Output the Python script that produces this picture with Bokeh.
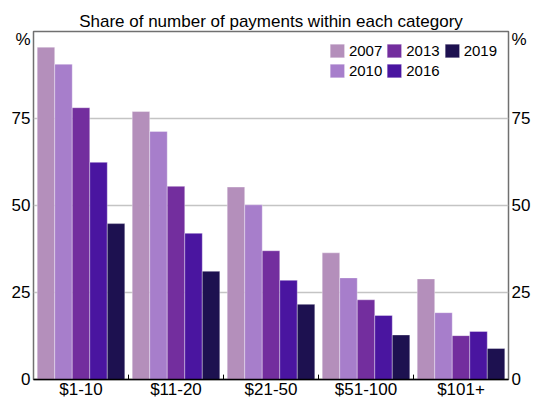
from bokeh.plotting import figure
from bokeh.models import (ColumnDataSource, Range1d, FactorRange, LinearAxis, FixedTicker,
                          Legend, LegendItem)
from bokeh.transform import dodge
from bokeh.embed import file_html
from bokeh.resources import INLINE

categories = ["$1-10", "$11-20", "$21-50", "$51-100", "$101+"]
years = ["2007", "2010", "2013", "2016", "2019"]
v2007 = [95.5, 77.0, 55.3, 36.4, 28.9]
v2010 = [90.6, 71.3, 50.2, 29.2, 19.2]
v2013 = [78.1, 55.5, 37.0, 22.9, 12.6]
v2016 = [62.4, 42.0, 28.5, 18.4, 13.8]
v2019 = [44.8, 31.1, 21.6, 12.8, 8.9]
colors = ["#b48fbb", "#a77ecb", "#732e9e", "#4a15a0", "#1d1150"]
y_ticks = [0, 25, 50, 75]

series = [v2007, v2010, v2013, v2016, v2019]
src = ColumnDataSource(dict(cat=categories, **{y: s for y, s in zip(years, series)}))

FONT = "Liberation Sans"

p = figure(width=538, height=401, x_range=FactorRange(*categories, range_padding=0),
           y_range=Range1d(0, 100), output_backend="svg", toolbar_location=None,
           min_border_left=33, min_border_right=30, min_border_top=31, min_border_bottom=0)

bw = 0.1844
offsets = [-2 * bw, -bw, 0, bw, 2 * bw]
renderers = []
for yr, off, col in zip(years, offsets, colors):
    r = p.vbar(x=dodge("cat", off, range=p.x_range), top=yr, width=bw, source=src,
               fill_color=col, line_color="white", line_alpha=0.35, line_width=1)
    renderers.append(r)

# category separators (boundaries between categories)
sep_src = ColumnDataSource(dict(cat=categories[:-1], y0=[0] * 4, y1=[1.4] * 4))
p.segment(x0=dodge("cat", 0.5, range=p.x_range), x1=dodge("cat", 0.5, range=p.x_range),
          y0="y0", y1="y1", source=sep_src, line_color="black", line_width=1)

# title
p.title.text = "Share of number of payments within each category"
p.title.align = "center"
p.title.text_font = FONT
p.title.text_font_size = "17px"
p.title.text_font_style = "normal"
p.title.text_color = "black"
p.title.standoff = 2

# outline & grid
p.outline_line_color = "#707070"
p.outline_line_width = 1.5
p.xgrid.grid_line_color = None
p.ygrid.ticker = FixedTicker(ticks=[25, 50, 75])
p.ygrid.grid_line_color = "#c4c4c4"
p.ygrid.grid_line_width = 1.5

# x axis
xa = p.xaxis[0]
xa.axis_line_color = "black"
xa.axis_line_width = 1.5
xa.major_tick_in = 0
xa.major_tick_out = 0
xa.major_label_standoff = 0
xa.major_label_text_font = FONT
xa.major_label_text_font_size = "17px"
xa.major_label_text_color = "black"

# y axes
ticks = y_ticks + [97.7]
overrides = {97.7: "%"}
ya = p.yaxis[0]
ra = LinearAxis()
p.add_layout(ra, "right")
for ax in (ya, ra):
    ax.ticker = FixedTicker(ticks=ticks)
    ax.major_label_overrides = overrides
    ax.axis_line_color = None
    ax.major_tick_in = 0
    ax.major_tick_out = 0
    ax.minor_tick_in = 0
    ax.minor_tick_out = 0
    ax.major_label_standoff = 3
    ax.major_label_text_font = FONT
    ax.major_label_text_font_size = "17px"
    ax.major_label_text_color = "black"

# legend
legend = Legend(items=[LegendItem(label=y, renderers=[r]) for y, r in zip(years, renderers)],
                location="top_right", orientation="vertical", nrows=2)
legend.label_text_font = FONT
legend.label_text_font_size = "15px"
legend.label_text_color = "black"
legend.glyph_width = 18
legend.glyph_height = 17
legend.label_standoff = 3
legend.spacing = 3
legend.padding = 2
legend.margin = 9
legend.border_line_alpha = 0
legend.background_fill_alpha = 0
p.add_layout(legend)

open("out.html", "w").write(file_html(p, INLINE))
